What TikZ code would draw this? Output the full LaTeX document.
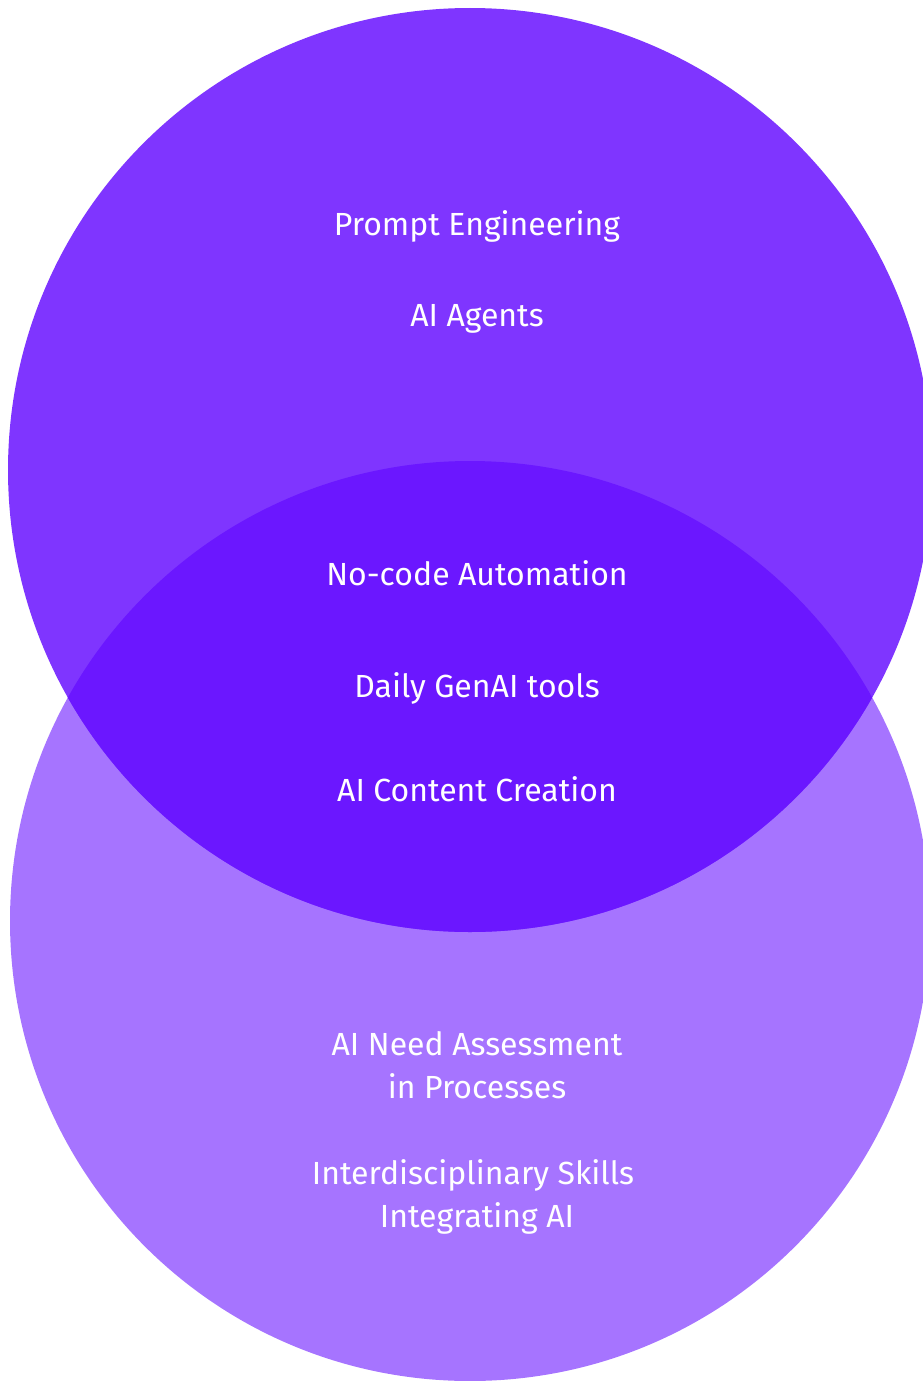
\documentclass[tikz,border=0pt]{standalone}
\usepackage{fontspec}
\setmainfont{Fira Sans}
\definecolor{topc}{HTML}{7F35FF}
\definecolor{botc}{HTML}{A674FF}
\definecolor{midc}{HTML}{6B17FF}
\begin{document}
\begin{tikzpicture}[x=1pt,y=-1pt,
  lbl/.style={text=white,font=\fontsize{32}{42.5}\selectfont,align=center,anchor=base,inner sep=0pt}]
\useasboundingbox (0,0) rectangle (923,1381);
\fill[botc] (470,921) circle[radius=460];
\fill[topc] (470,470) circle[radius=462];
\begin{scope}
\clip (470,921) circle[radius=460];
\fill[midc] (470,470) circle[radius=462];
\end{scope}
\node[lbl] (pe) at (477,235) {Prompt Engineering};
\node[lbl] (ag) at (477,326) {AI Agents};
\node[lbl] (nc) at (477,585) {No-code Automation};
\node[lbl] (dg) at (477,697) {Daily GenAI tools};
\node[lbl] (cc) at (477,801) {AI Content Creation};
\node[lbl] (na) at (477,1098) {AI Need Assessment\\in Processes};
\node[lbl] (is) at (477,1227) {Interdisciplinary Skills\rule{8pt}{0pt}\\Integrating AI};
\end{tikzpicture}
\end{document}
